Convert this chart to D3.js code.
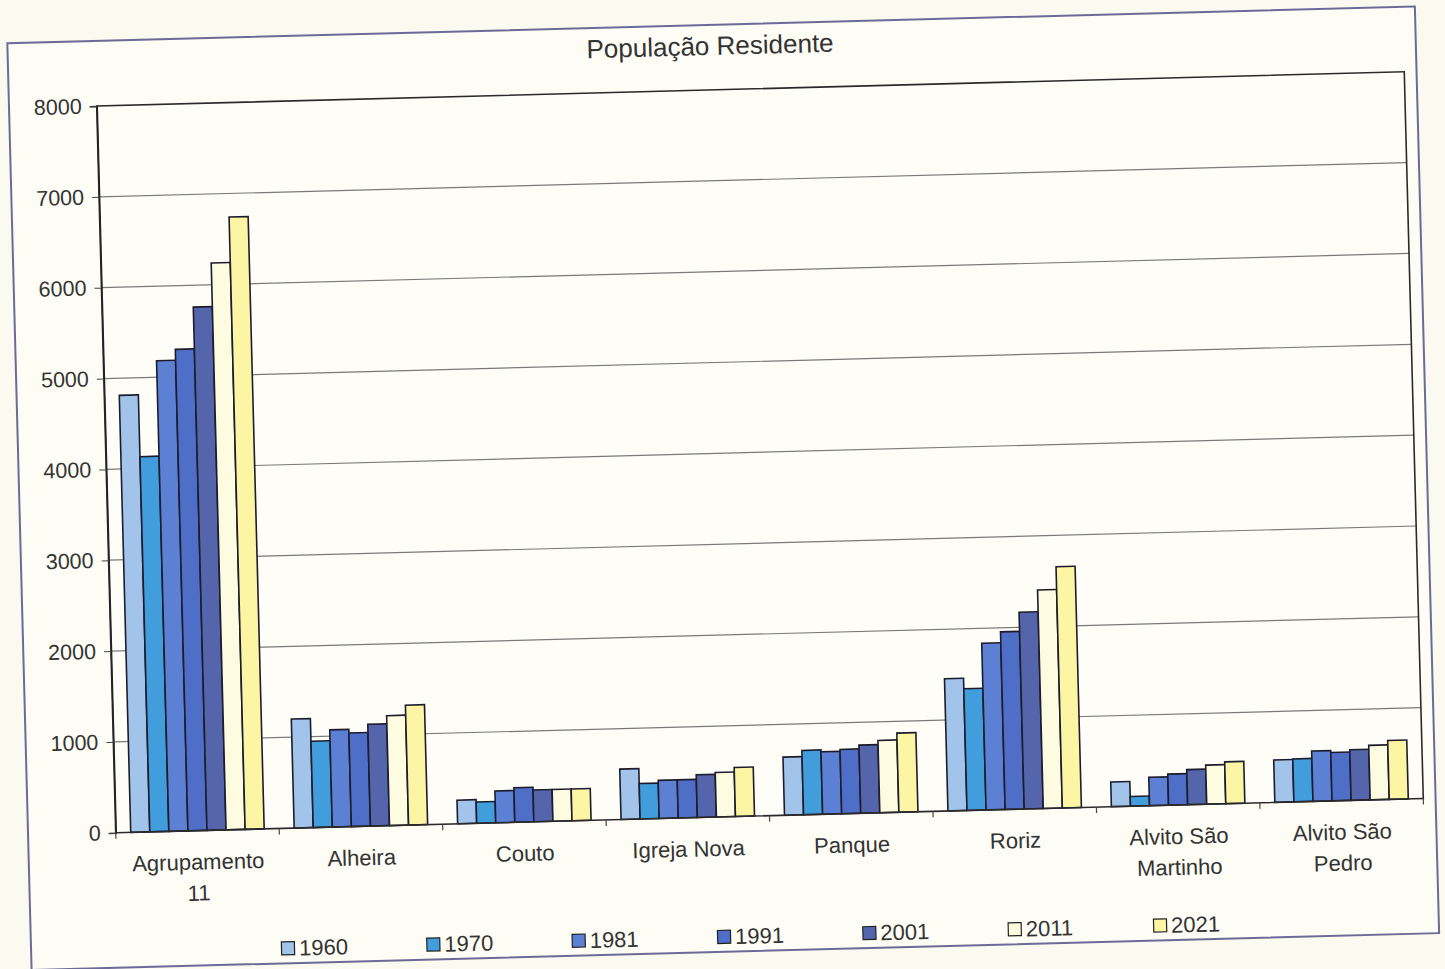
<!DOCTYPE html>
<html>
<head>
<meta charset="utf-8">
<script src="https://cdn.jsdelivr.net/npm/d3@7"></script>
<style>
  html, body { margin: 0; padding: 0; background: #fbfaf1; }
  svg { display: block; }
  text { font-family: "Liberation Sans", Arial, sans-serif; fill: #333; }
</style>
</head>
<body>
<svg id="chart" width="1445" height="969"></svg>
<script>
const title = "População Residente";
const categories = ["Agrupamento 11", "Alheira", "Couto", "Igreja Nova", "Panque", "Roriz", "Alvito São Martinho", "Alvito São Pedro"];
const categoryLines = [["Agrupamento", "11"], ["Alheira"], ["Couto"], ["Igreja Nova"], ["Panque"], ["Roriz"], ["Alvito São", "Martinho"], ["Alvito São", "Pedro"]];
const series = ["1960", "1970", "1981", "1991", "2001", "2011", "2021"];
const v1960 = [4810, 1200, 260, 555, 640, 1455, 272, 467];
const v1970 = [4130, 950, 235, 390, 708, 1340, 107, 473];
const v1981 = [5180, 1070, 350, 420, 687, 1835, 312, 554];
const v1991 = [5300, 1030, 380, 420, 708, 1955, 342, 533];
const v2001 = [5760, 1120, 350, 470, 750, 2165, 386, 557];
const v2011 = [6240, 1210, 350, 490, 796, 2405, 430, 600];
const v2021 = [6740, 1320, 350, 540, 871, 2655, 460, 648];
const yTicks = [0, 1000, 2000, 3000, 4000, 5000, 6000, 7000, 8000];
const colors = ["#a3c4ea", "#429ddc", "#5b80d4", "#4e6ec8", "#5565ab", "#fdfbe0", "#fbf5a4"];

const seriesValues = [v1960, v1970, v1981, v1991, v2001, v2011, v2021];

const W = 1308, H = 727;
const svg = d3.select("#chart");
svg.append("rect").attr("width", 1445).attr("height", 969).attr("fill", "#fbfaf1");

const g = svg.append("g").attr("transform", "translate(96.7,106) rotate(-1.5)");

// outer chart border
g.append("rect").attr("x", -87.7).attr("y", -65).attr("width", 1408).attr("height", 927)
  .attr("fill", "#fdfcf5").attr("stroke", "#6b6b98").attr("stroke-width", 2);

// title
g.append("text").attr("x", 614.7).attr("y", -44).attr("text-anchor", "middle")
  .attr("dominant-baseline", "central").style("font-size", "26px").text(title);

const x0 = d3.scaleBand().domain(categories).range([0, W]).paddingInner(0).paddingOuter(0);
const gap = 30;
const x1 = d3.scaleBand().domain(series).range([gap / 2, x0.bandwidth() - gap / 2]).padding(0);
const y = d3.scaleLinear().domain([0, 8000]).range([H, 0]);

// plot background
g.append("rect").attr("x", 0).attr("y", 0).attr("width", W).attr("height", H).attr("fill", "#fefdf7");

// gridlines
g.append("g").selectAll("line").data(yTicks.filter(t => t > 0 && t < 8000)).join("line")
  .attr("x1", 0).attr("x2", W).attr("y1", d => y(d)).attr("y2", d => y(d))
  .attr("stroke", "#7a7a7a").attr("stroke-width", 1.2);

// bars
const groups = g.append("g").selectAll("g").data(categories).join("g")
  .attr("transform", d => `translate(${x0(d)},0)`);
groups.selectAll("rect").data((c, ci) => series.map((s, si) => ({ s, si, v: seriesValues[si][ci] }))).join("rect")
  .attr("x", d => x1(d.s)).attr("width", x1.bandwidth())
  .attr("y", d => y(d.v)).attr("height", d => H - y(d.v))
  .attr("fill", d => colors[d.si]).attr("stroke", "#1c1c2c").attr("stroke-width", 1.6);

// plot border
g.append("rect").attr("x", 0).attr("y", 0).attr("width", W).attr("height", H)
  .attr("fill", "none").attr("stroke", "#2a2a2a").attr("stroke-width", 1.6);

// y axis
const yAxis = g.append("g").call(d3.axisLeft(y).tickValues(yTicks).tickSize(7).tickPadding(8).tickFormat(d3.format("d")));
yAxis.select(".domain").attr("stroke", "#222").attr("stroke-width", 1.6);
yAxis.selectAll(".tick line").attr("stroke", "#444");
yAxis.selectAll("text").style("font-size", "21.5px").attr("fill", "#333");

// x axis ticks at category boundaries
const bounds = categories.map(c => x0(c)).concat([x0.range()[1]]);
g.append("g").selectAll("line").data(bounds).join("line")
  .attr("x1", d => d).attr("x2", d => d).attr("y1", H).attr("y2", H + 6)
  .attr("stroke", "#444").attr("stroke-width", 1.2);

// x labels
const xl = g.append("g").selectAll("text").data(categories).join("text")
  .attr("x", d => x0(d) + x0.bandwidth() / 2).attr("y", H + 39)
  .attr("text-anchor", "middle").style("font-size", "22px");
xl.selectAll("tspan").data((d, i) => categoryLines[i]).join("tspan")
  .attr("x", function() { return d3.select(this.parentNode).attr("x"); })
  .attr("dy", (d, i) => i === 0 ? 0 : 31).text(d => d);

// legend
const legend = g.append("g").selectAll("g").data(series).join("g")
  .attr("transform", (d, i) => `translate(${169.2 + i * 145.4},847)`);
legend.append("rect").attr("x", -6.5).attr("y", -6.5).attr("width", 13).attr("height", 13)
  .attr("fill", (d, i) => colors[i]).attr("stroke", "#222").attr("stroke-width", 1.2);
legend.append("text").attr("x", 11).attr("y", 0).attr("dominant-baseline", "central")
  .style("font-size", "22px").text(d => d);
</script>
</body>
</html>
